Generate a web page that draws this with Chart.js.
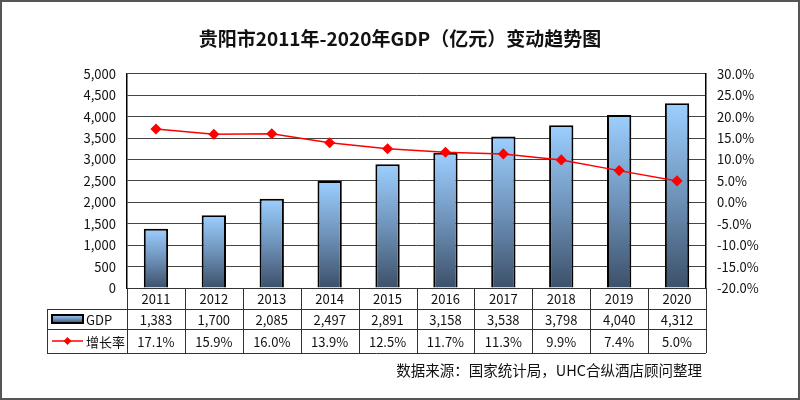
<!DOCTYPE html>
<html lang="zh">
<head>
<meta charset="UTF-8">
<title>贵阳市GDP</title>
<script src="https://cdn.jsdelivr.net/npm/chart.js@4/dist/chart.umd.min.js"></script>
<style>
  body { margin: 0; background: #fff; }
  #wrap { width: 800px; height: 400px; }
</style>
</head>
<body>
<div id="wrap"><canvas id="chart" width="800" height="400"></canvas></div>
<script>
var years = ['2011', '2012', '2013', '2014', '2015', '2016', '2017', '2018', '2019', '2020'];
var gdp = [1383, 1700, 2085, 2497, 2891, 3158, 3538, 3798, 4040, 4312];
var growth = [17.1, 15.9, 16.0, 13.9, 12.5, 11.7, 11.3, 9.9, 7.4, 5.0];
var titleText = '贵阳市2011年-2020年GDP（亿元）变动趋势图';
var sourceText = '数据来源：国家统计局，UHC合纵酒店顾问整理';

var FONT = '"Noto Sans CJK SC", "Noto Sans", sans-serif';

function fmtNum(v) {
    return v.toLocaleString('en-US');
}

function barGradient(c, top, bottom) {
    var g = c.createLinearGradient(0, top, 0, bottom);
    g.addColorStop(0, '#9ccfff');
    g.addColorStop(0.5, '#6f93ba');
    g.addColorStop(1, '#3c5069');
    return g;
}

// draws the data table under the plot, the frame, and the source line
var tablePlugin = {
    id: 'tablePlugin',
    afterDraw: function (chart) {
        var c = chart.ctx;
        var x = chart.scales.x;
        var area = chart.chartArea;
        var n = years.length;
        var colW = (area.right - area.left) / n;
        var r0 = area.bottom, r1 = 309, r2 = 329, r3 = 353;
        var labL = 47;

        c.save();
        c.strokeStyle = '#333';
        c.lineWidth = 1;
        c.beginPath();
        // horizontal lines
        c.moveTo(area.left, r0 + 0.5); c.lineTo(area.right, r0 + 0.5);
        c.moveTo(labL, r1 + 0.5); c.lineTo(area.right, r1 + 0.5);
        c.moveTo(labL, r2 + 0.5); c.lineTo(area.right, r2 + 0.5);
        c.moveTo(labL, r3 + 0.5); c.lineTo(area.right, r3 + 0.5);
        // verticals
        c.moveTo(labL + 0.5, r1); c.lineTo(labL + 0.5, r3);
        for (var i = 0; i <= n; i++) {
            var vx = Math.round(area.left + i * colW) + 0.5;
            c.moveTo(vx, r0); c.lineTo(vx, r3);
        }
        c.stroke();

        c.fillStyle = '#111';
        c.font = '13px ' + FONT;
        c.textAlign = 'center';
        c.textBaseline = 'middle';
        for (var j = 0; j < n; j++) {
            var cx = x.getPixelForValue(j);
            c.fillText(years[j], cx, (r0 + r1) / 2 + 1);
            c.fillText(fmtNum(gdp[j]), cx, (r1 + r2) / 2 + 1);
            c.fillText(growth[j].toFixed(1) + '%', cx, (r2 + r3) / 2 + 1);
        }

        // legend keys
        var ky = (r1 + r2) / 2;
        c.fillStyle = barGradient(c, ky - 4, ky + 4);
        c.fillRect(52, ky - 4, 31, 8);
        c.strokeStyle = '#000';
        c.lineWidth = 2;
        c.strokeRect(52, ky - 4, 31, 8);
        var ly = (r2 + r3) / 2;
        c.strokeStyle = '#ff0000';
        c.lineWidth = 1.5;
        c.beginPath(); c.moveTo(52, ly); c.lineTo(83, ly); c.stroke();
        c.fillStyle = '#ff0000';
        c.beginPath();
        c.moveTo(67.5, ly - 4); c.lineTo(71.5, ly); c.lineTo(67.5, ly + 4); c.lineTo(63.5, ly);
        c.closePath(); c.fill();
        c.fillStyle = '#111';
        c.textAlign = 'left';
        c.fillText('GDP', 86, ky + 1);
        c.fillText('增长率', 86, ly + 1);

        // source
        c.textAlign = 'right';
        c.font = '14.5px ' + FONT;
        c.fillText(sourceText, 702, 370);

        // outer frame
        c.strokeStyle = '#555';
        c.lineWidth = 2;
        c.strokeRect(1, 1, 798, 398);
        c.restore();
    }
};

var ctx = document.getElementById('chart').getContext('2d');
var chart = new Chart(ctx, {
    data: {
        labels: years,
        datasets: [
            {
                type: 'line',
                label: '增长率',
                data: growth,
                yAxisID: 'y2',
                borderColor: '#ff0000',
                backgroundColor: '#ff0000',
                borderWidth: 1.5,
                pointStyle: 'rectRot',
                pointRadius: 4.5,
                pointHoverRadius: 4.5,
                tension: 0,
                order: 0
            },
            {
                type: 'bar',
                label: 'GDP',
                data: gdp,
                yAxisID: 'y',
                backgroundColor: function (context) {
                    var ch = context.chart;
                    if (!ch.chartArea || context.type !== 'data') return '#6f93ba';
                    var sy = ch.scales.y;
                    return barGradient(ch.ctx, sy.getPixelForValue(context.raw), sy.getPixelForValue(0));
                },
                borderColor: '#000',
                borderWidth: 2,
                categoryPercentage: 1,
                barPercentage: 0.42,
                order: 1
            }
        ]
    },
    options: {
        responsive: false,
        animation: false,
        events: [],
        layout: { padding: { left: 0, right: 0, top: 0, bottom: 112 } },
        plugins: {
            legend: { display: false },
            tooltip: { enabled: false },
            title: {
                display: true,
                text: titleText,
                color: '#111',
                font: { family: FONT, size: 19, weight: 'bold' },
                padding: { top: 27, bottom: 24 }
            }
        },
        scales: {
            x: {
                display: false,
                offset: true
            },
            y: {
                position: 'left',
                min: 0,
                max: 5000,
                afterFit: function (s) { s.width = 127; },
                ticks: {
                    stepSize: 500,
                    color: '#111',
                    padding: 11,
                    font: { family: FONT, size: 13 },
                    callback: function (v) { return fmtNum(v); }
                },
                grid: { color: '#444', lineWidth: 1, drawTicks: false },
                border: { color: '#000', width: 1.5 }
            },
            y2: {
                position: 'right',
                min: -20,
                max: 30,
                afterFit: function (s) { s.width = 94; },
                ticks: {
                    stepSize: 5,
                    color: '#111',
                    padding: 11,
                    font: { family: FONT, size: 13 },
                    callback: function (v) { return v.toFixed(1) + '%'; }
                },
                grid: { display: false, drawTicks: false },
                border: { color: '#000', width: 1.5 }
            }
        }
    },
    plugins: [tablePlugin]
});
</script>
</body>
</html>
